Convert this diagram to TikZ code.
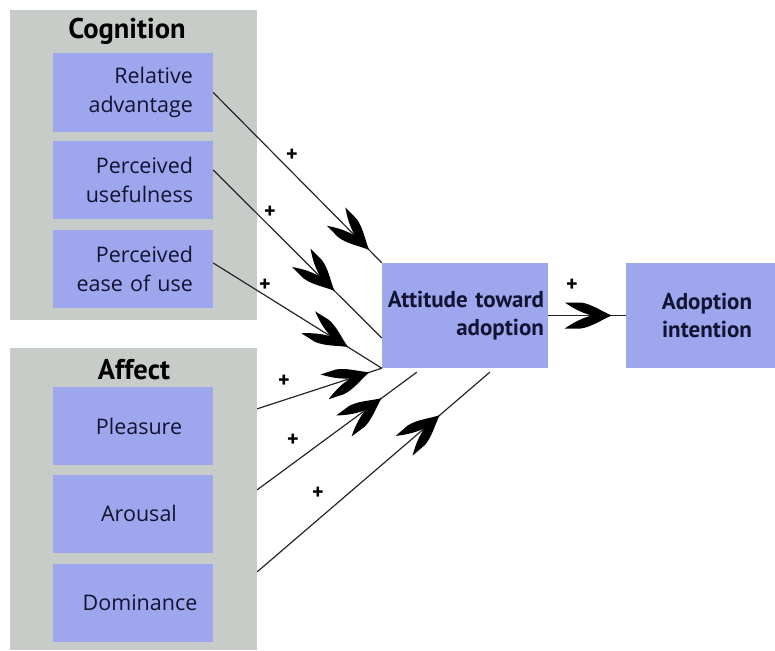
\documentclass[tikz,border=0pt]{standalone}
\usepackage{fontspec}
\setmainfont{PT Sans}
\newfontfamily\factorfont{Open Sans}
\usetikzlibrary{calc,decorations.markings}

\definecolor{panelgray}{RGB}{200,204,200}
\definecolor{boxblue}{RGB}{158,166,238}
\definecolor{navy}{RGB}{18,20,50}

\tikzset{
  panel/.style={fill=panelgray, draw=none, minimum width=247pt, inner sep=0pt},
  grouptitle/.style={font=\bfseries\fontsize{28.5}{30}\selectfont, text=black,
    inner sep=0pt, anchor=base},
  factor/.style={fill=boxblue, draw=none, minimum width=160pt, minimum height=78pt,
    text width=120pt, inner xsep=20pt, inner ysep=0pt, text=navy,
    font=\factorfont\fontsize{21.5}{28.5}\selectfont},
  single/.style={text width=150pt, inner xsep=5pt, align=center},
  construct/.style={fill=boxblue, draw=none, minimum height=105pt, inner sep=0pt,
    text=navy, font=\bfseries\fontsize{23}{28}\selectfont},
  plus/.style={font=\bfseries\fontsize{22}{22}\selectfont, inner sep=0pt},
  link/.style={line width=1.2pt, draw=black!85},
  % filled chevron placed along a connector, tip pointing forward
  chevronat/.style={postaction={decorate}, decoration={markings,
    mark=at position #1 with {\fill[black] (0,0) .. controls (-10,4) and (-20,11.5) .. (-31,13)
      -- (-47,13) .. controls (-37,6) and (-28,2) .. (-20,0)
      .. controls (-28,-2) and (-37,-6) .. (-47,-13)
      -- (-31,-13) .. controls (-20,-11.5) and (-10,-4) .. (0,0) -- cycle;}}},
}

\begin{document}
\begin{tikzpicture}[x=1pt, y=-1pt]
  \useasboundingbox (0,0) rectangle (775,650);

  % grouping panels
  \node[panel, minimum height=310pt] (cognition) at (133.5,165) {};
  \node[panel, minimum height=302pt] (affect) at (133.5,499) {};
  \node[grouptitle] (cogtitle) at (127,38.7) {Cognition};
  \node[grouptitle] (afftitle) at (134,379) {Affect};

  % cognitive antecedents
  \node[factor, align=right] (ra)  at (133,92.5) {Relative\\advantage};
  \node[factor, align=right] (pu)  at (133,180)  {Perceived\\usefulness};
  \node[factor, align=right] (peu) at (133,269)  {Perceived\\ease of use};

  % affective antecedents
  \node[factor, single] (pl) at (133,426)   {\hspace*{12pt}Pleasure};
  \node[factor, single] (ar) at (133,513.5) {\hspace*{12pt}Arousal};
  \node[factor, single] (do) at (133,602.5) {\hspace*{14pt}Dominance};

  % outcome constructs
  \node[construct, minimum width=166pt, text width=158pt, align=right] (att) at (465,315.5)
    {Attitude toward\\adoption};
  \node[construct, minimum width=149pt, text width=130pt, align=center] (ai) at (700.5,315.5)
    {\hspace*{13pt}Adoption\\\hspace*{13pt}intention};

  % connector end points
  \coordinate (puout)  at ($(pu.east)+(0,-10)$);
  \coordinate (peuout) at ($(peu.east)+(0,-6)$);
  \coordinate (plout)  at ($(affect.north east)+(0,61)$);
  \coordinate (arout)  at ($(affect.north east)+(0,142)$);
  \coordinate (doout)  at ($(affect.north east)+(0,224)$);
  \coordinate (attin2) at ($(att.west)+(0,22.5)$);
  \coordinate (attin5) at ($(att.south west)+(35,4)$);
  \coordinate (attin6) at ($(att.south west)+(108,4)$);

  % connectors
  \draw[link, chevronat=0.925] (ra.east) -- (att.north west);
  \draw[link, chevronat=0.72]  (puout) -- (attin2);
  \draw[link, chevronat=0.80]  (peuout) -- (att.south west);
  \draw[link, chevronat=0.90]  (plout) -- (att.south west);
  \draw[link, chevronat=0.78]  (arout) -- (attin5);
  \draw[link, chevronat=0.785] (doout) -- (attin6);
  \draw[link, chevronat=0.82]  (att.east) -- (ai.west);

  % signs
  \node[plus] (p1) at (292,155) {+};
  \node[plus] (p2) at (270,212) {+};
  \node[plus] (p3) at (265,285) {+};
  \node[plus] (p4) at (284,381) {+};
  \node[plus] (p5) at (293,440) {+};
  \node[plus] (p6) at (318,493) {+};
  \node[plus] (p7) at (572,285) {+};
\end{tikzpicture}
\end{document}
